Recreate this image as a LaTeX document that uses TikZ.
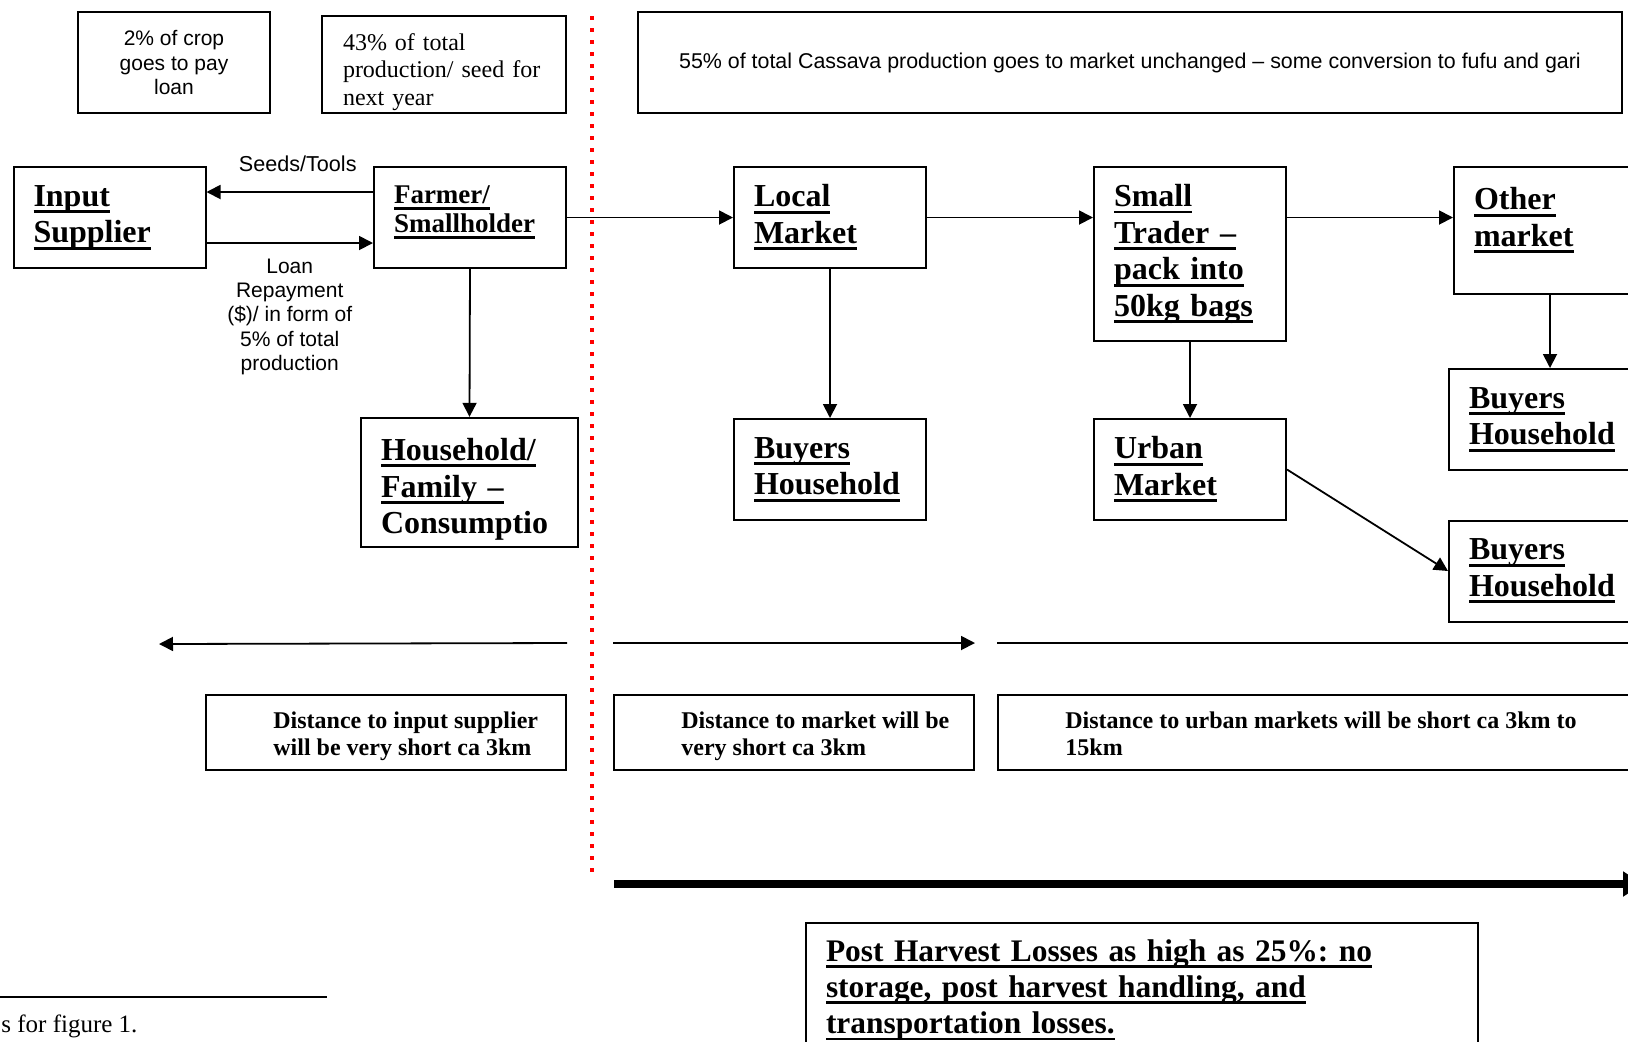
\documentclass[tikz,border=0pt]{standalone}
\usepackage{fontspec}
\setmainfont{Liberation Serif}
\setsansfont{Liberation Sans}
\usetikzlibrary{arrows.meta, positioning, calc}

% thick underline as in the original figure
\newcommand{\ulx}[1]{\setbox0\hbox{#1}\leavevmode\rlap{\rule[-0.21em]{\wd0}{0.09em}}\box0}
\frenchspacing

\begin{document}
\begin{tikzpicture}[x=0.5pt, y=-0.5pt,
    flowbox/.style={draw, line width=1pt, align=left, inner xsep=10pt, text width=76pt, minimum height=50.5pt, font=\fontsize{16}{18.3}\selectfont\bfseries},
    notebox/.style={draw, line width=1pt, minimum height=50.5pt, align=center, font=\sffamily\fontsize{10.5}{12.2}\selectfont},
    distbox/.style={draw, line width=1pt, minimum width=180pt, minimum height=37.5pt},
    disttext/.style={anchor=north west, align=left, inner sep=0pt, font=\fontsize{12}{13.5}\selectfont\bfseries},
    lbl/.style={align=center, font=\sffamily\fontsize{10.5}{12.2}\selectfont},
    flow/.style={line width=0.9pt, -{Triangle[length=7pt, width=7pt]}},
    divider/.style={red, line width=2pt, dash pattern=on 2pt off 4pt},
]
\useasboundingbox (0,0) rectangle (1628,1041);
\clip (0,0) rectangle (1628,1041);

% shares of the harvest
\node[notebox, minimum width=96pt] (croploan) at (174,62.5) {2\% of crop\\goes to pay\\loan};
\node[draw, line width=1pt, align=left, text width=101pt, inner xsep=10.5pt, inner ysep=0pt, minimum height=48.5pt, font=\fontsize{12}{13.8}\selectfont] (seedshare) at (444,64.5) {\rule{0pt}{16pt}43\% of total\\production/ seed for\\next year};
\node[notebox, minimum width=492pt, font=\sffamily\fontsize{10.7}{12.2}\selectfont] (marketshare) at (1130,62.5) {55\% of total Cassava production goes to market unchanged – some conversion to fufu and gari};

% farm gate / market divide
\coordinate (divtop) at (592,16);
\coordinate (divbot) at (592,875);
\draw[divider] (divtop) -- (divbot);

% actors
\node[flowbox] (input) at (109.5,217.5) {\ulx{Input}\\\ulx{Supplier}};
\node[flowbox, font=\fontsize{13.5}{14.5}\selectfont\bfseries] (farmer) at (470,217.5) {\ulx{Farmer/}\\\ulx{Smallholder}\rule[-8pt]{0pt}{8pt}};
\node[flowbox, text width=88.5pt, minimum height=63.5pt] (household) at (469.5,482.5) {\rule{0pt}{18pt}\ulx{Household/}\\\ulx{Family –}\\Consumptio};
\node[flowbox] (local) at (830,217.5) {\ulx{Local}\\\ulx{Market}};
\node[flowbox, minimum height=87pt] (trader) at (1190,254) {\ulx{Small}\\\ulx{Trader –}\\\ulx{pack into}\\\ulx{50kg bags}};
\node[flowbox, minimum height=63.5pt] (other) at (1550,230.5) {\ulx{Other}\\\ulx{market}\rule[-13.5pt]{0pt}{13.5pt}};
\node[flowbox] (buyersA) at (830,469.5) {\ulx{Buyers}\\\ulx{Household}};
\node[flowbox] (urban) at (1190,469.5) {\ulx{Urban}\\\ulx{Market}};
\node[flowbox] (buyersB) at (1545,419.5) {\ulx{Buyers}\\\ulx{Household}};
\node[flowbox] (buyersC) at (1545,571) {\ulx{Buyers}\\\ulx{Household}};

% flows
\draw[flow] ([yshift=12.75pt]farmer.west) -- node[lbl, above=6.5pt, xshift=4pt, font=\sffamily\fontsize{10.8}{12.2}\selectfont] (seedslbl) {Seeds/Tools} ([yshift=12.75pt]input.east);
\draw[flow] ([yshift=-12.75pt]input.east) -- node[lbl, below=4pt] (loanlbl) {Loan\\Repayment\\(\$)/ in form of\\5\% of total\\production} ([yshift=-12.75pt]farmer.west);
\draw[flow] (farmer.south) -- (household.north);
\draw[flow] (farmer.east) -- (local.west);
\draw[flow] (local.east) -- (local.east -| trader.west);
\draw[flow] (local.east -| trader.east) -- (local.east -| other.west);
\draw[flow] (local.south) -- (buyersA.north);
\draw[flow] (trader.south) -- (urban.north);
\draw[flow] (other.south) -- (other.south |- buyersB.north);
\draw[flow] (urban.east) -- (buyersC.west);

% distances
\node[distbox] (distinput) at (386,732.5) {};
\node[disttext] (distinputtxt) at ([xshift=34pt, yshift=-8.5pt]distinput.north west) {Distance to input supplier\\will be very short ca 3km};
\node[distbox] (distmarket) at (794,732.5) {};
\node[disttext] (distmarkettxt) at ([xshift=34pt, yshift=-8.5pt]distmarket.north west) {Distance to market will be\\very short ca 3km};
\node[distbox, minimum width=331pt] (disturban) at (1329,732.5) {};
\node[disttext] (disturbantxt) at ([xshift=34pt, yshift=-8.5pt]disturban.north west) {Distance to urban markets will be short ca 3km to\\15km};

\coordinate (leftend) at (159,644);
\draw[flow] ([yshift=25.5pt]distinput.north east) -- (leftend);
\draw[flow] ([yshift=25.5pt]distmarket.north west) -- ([yshift=25.5pt]distmarket.north east);
\draw[line width=0.9pt] ([yshift=25.5pt]disturban.north west) -- ([yshift=25.5pt]disturban.north east);

% losses along the chain
\coordinate (lossstart) at (614,884);
\coordinate (lossend) at (1643,884);
\draw[line width=4pt, -{Triangle[length=10pt, width=12pt]}] (lossstart) -- (lossend);
\node[draw, line width=1.2pt, anchor=north, align=left, text width=316pt, inner xsep=10pt, inner ysep=8pt, font=\fontsize{15.7}{18.2}\selectfont\bfseries] (losses) at (1142,922) {\ulx{Post Harvest Losses as high as 25\%: no}\\\ulx{storage, post harvest handling, and}\\\ulx{transportation losses.}};

% footnote
\coordinate (noteleft) at (0,997);
\coordinate (noteright) at (327,997);
\draw[line width=0.9pt] (noteleft) -- (noteright);
\node[anchor=base west, inner sep=0pt, font=\fontsize{12.5}{14}\selectfont] (footnote) at (1,1032) {s for figure 1.};
\end{tikzpicture}
\end{document}
